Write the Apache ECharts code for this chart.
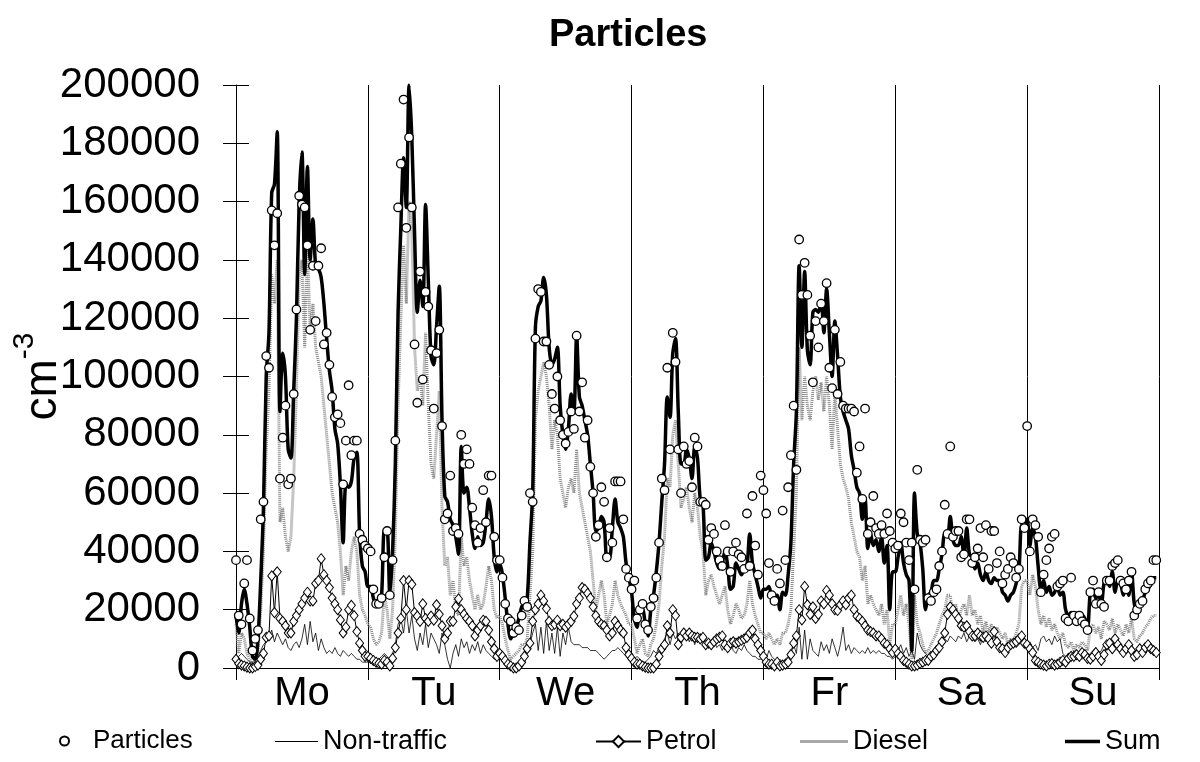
<!DOCTYPE html>
<html>
<head>
<meta charset="utf-8">
<script src="https://cdn.jsdelivr.net/npm/echarts@6/dist/echarts.min.js"></script>
<style>
html,body{margin:0;padding:0;background:#fff;}
#chart{width:1200px;height:762px;}
</style>
</head>
<body>
<div id="chart"></div>
<script>
// Weekday labels (one per day, 48 half-hour values per day)
const days = ['Mo', 'Tu', 'We', 'Th', 'Fr', 'Sa', 'Su'];
const seriesNames = ['Particles', 'Non-traffic', 'Petrol', 'Diesel', 'Sum'];
const UNIT = 1000; // values below are in thousands of cm^-3
const STEPS_PER_DAY = 48;

// Particles (measured), half-hourly
const particles = [
  37,18,15,29,37,17,6,10,13,51, 57,107,103,157,145,156,65,79,90,63, 65,94,123,162,159,158,145,116,138,119, 138,144,111,115,104,93,86,87,84,63, 78,97,73,78,78,46,44,42,
  41,40,27,22,22,24,38,47,25,37, 78,158,173,195,151,182,158,111,91,136, 99,129,124,109,89,108,116,83,51,53, 66,47,48,46,80,70,75,70,55,49, 43,48,61,50,66,66,45,37,
  37,31,22,17,16,12,14,13,18,23, 21,60,57,113,130,129,112,112,104,94, 89,100,85,80,77,81,88,82,114,88, 98,79,85,69,60,45,49,62,57,38, 48,43,64,64,64,51,34,31,
  27,30,17,20,22,15,13,21,24,31, 43,65,61,103,75,115,105,75,60,76, 70,71,62,79,76,57,57,56,44,48, 46,40,37,35,49,40,33,40,43,39, 38,34,53,35,59,42,32,66,
  61,53,36,25,23,34,29,54,37,62, 73,90,68,147,128,139,128,114,98,119, 110,125,119,132,103,96,116,94,105,90, 89,89,89,88,67,76,58,89,46,50, 59,48,46,49,46,53,47,43,
  41,42,53,50,43,37,43,27,68,44, 43,44,24,23,26,27,35,40,56,46, 76,45,47,47,38,39,51,51,36,38, 41,48,38,49,34,47,47,36,40,29, 32,34,38,36,31,34,51,48,
  83,40,51,49,45,26,32,37,41,45, 46,28,29,30,17,16,31,18,16,18, 16,15,13,26,30,22,26,22,21,30, 30,35,36,37,30,29,27,30,33,18, 20,22,23,27,29,30,37,37
];

// Non-traffic contribution
const nonTraffic = [
  3,4,5,4,3,2,2,3,4,6, 8,9,10,13,9,12,10,8,10,7, 6,8,9,7,10,15,8,16,9,12, 6,10,7,5,6,5,7,5,4,6, 5,4,5,4,3,3,2,2,
  2,3,2,2,3,4,5,4,3,5, 8,15,17,12,20,12,18,10,6,12, 8,15,7,12,10,8,5,12,8,3, 0,5,8,4,10,7,9,5,8,6, 9,5,8,6,5,4,3,3,
  3,3,2,2,1,1,1,2,3,4, 5,8,12,15,6,14,5,16,6,12, 5,14,4,12,8,14,9,8,8,8, 7,7,7,6,6,6,5,4,3,4, 5,6,6,7,6,5,4,3,
  2,3,4,3,2,2,3,4,6,5, 7,8,10,12,8,12,10,12,8,11, 12,9,11,8,12,9,10,7,9,8, 10,7,8,6,8,7,9,6,5,7, 6,8,6,5,4,4,3,3,
  3,3,6,4,3,2,3,2,3,4, 6,8,5,14,3,13,3,10,6,5, 4,9,6,8,5,10,7,4,8,14, 6,8,5,7,6,5,6,5,7,5, 6,5,6,5,5,4,4,3,
  4,6,8,5,7,4,6,3,12,8, 6,5,4,5,6,5,7,8,10,9, 11,10,9,11,10,12,9,11,10,9, 10,8,11,9,10,8,9,10,8,7, 8,9,7,8,7,8,10,9,
  8,9,7,8,6,10,11,9,10,8, 11,9,10,5,4,4,5,4,3,4, 3,4,3,5,6,7,5,6,8,6, 7,5,8,6,7,5,6,7,5,6, 4,5,6,5,6,5,6,5
];

// Petrol contribution
const petrol = [
  3,1.5,1,0.7,0.3,0,0,0.5,1,3, 5,10.5,11,31.6,19,33,17,16,14.5,12, 12,16,18,20,22,24,26,23,23,29, 30,37.5,32,30,27.6,24,22,20,16.5,12, 14,20,21.5,18,12.5,8.5,6,4,
  4,3.3,2.6,2,1.6,1.3,2.6,2,0.7,3.3, 7,12,17,30,20,30,28.7,19,17.8,16, 22,17,16,17.8,16.4,21.7,18.4,14.5,10,12, 16,16,21,23.7,20,18.4,17,16,14.5,11, 13,14.5,16.4,16,13,9,6.6,4,
  5,4,2.6,1.3,0.7,0,0,0.7,2,4, 6.6,8.5,16,20,22,25,23,20.4,16,14.5, 15,16.4,14.5,15,14,15,16,17.8,22,24, 27.6,27,25.6,24,21,18,16,15,14.5,13, 11,12,16,14.5,13,12,7,4.6,
  3.3,2,1.3,1.3,0.7,0.3,0,0,0,1.3, 4,6.6,8,14.5,12,20,18,8,10.5,12, 11,12,11,10.5,10.5,10,10.5,8,8.5,8, 9,10,10.5,11,8,7,8.5,9,8.5,9, 9.5,10,10.5,12,13,10,8,6,
  4,2,1.3,1.3,0.7,2,0.7,1,1.3,2, 4.6,8.5,11,20,16.5,28,21.7,18.4,21,17, 18.4,23,22,26.6,25,22,20,19.7,21.7,23, 21.7,24,25,20,17.8,17,16,14.5,13,12.5, 12,11,11,10,8.5,8,6.6,5.3,
  6.5,5,4,2.6,2,1.3,0.7,0.7,1,1.6, 2,2.6,2.6,4,4.6,6,7,9,12,18.4, 21,20,18.4,17,14.5,14,14.5,12.5,11,11, 12,11,10.5,11,10,8.5,12.5,9,7,6.6, 5.3,7,8,8.5,9,10,11,8.5,
  8,6.6,5.3,2.6,2,1.3,1,0.7,1.3,1.5, 1,1.3,2,2.6,2,3.3,4,4,4.6,4, 5.3,4.6,3.3,3,4,5.3,4,2.6,4.6,8, 8.5,6.6,10,8,6.6,5.3,6.6,8,6,4, 4.6,6.6,5.3,7,8,6.6,6,5.3
];

// Diesel contribution
const diesel = [
  15,5,12,10,5,3,1,2,5,20, 40,75,95,135,125,140,50,55,45,40, 45,65,95,135,140,110,145,115,125,110, 105,100,90,80,70,60,55,50,40,25, 35,30,40,45,40,25,20,18,
  15,14,10,8,9,12,25,20,10,20, 45,90,120,145,125,160,150,110,95,100, 90,115,90,70,65,80,95,55,35,38, 25,30,20,18,45,35,38,30,25,20, 25,20,22,28,35,30,20,17,
  18,15,10,6,3,4,5,6,8,8, 10,25,40,85,95,100,105,100,90,75, 85,80,65,60,55,62,65,60,75,60, 55,50,45,40,30,20,25,30,25,15, 18,22,30,25,22,20,18,15,
  15,10,5,8,10,5,4,8,10,15, 22,35,45,65,62,80,85,70,55,58, 62,55,50,60,55,45,40,25,30,32, 28,25,22,25,28,20,15,18,22,20, 17,18,22,30,22,18,15,12,
  12,10,12,10,8,10,8,12,12,15, 20,40,60,110,85,100,90,85,95,100, 92,98,88,100,90,75,95,82,70,65, 62,58,50,45,40,38,30,35,22,25, 22,20,18,22,15,20,8,15,
  15,20,25,18,22,15,3,25,15,12, 8,5,6,8,10,12,15,18,20,25, 25,18,22,16,20,22,18,25,18,20, 15,18,12,16,12,15,10,14,12,10, 12,8,10,9,12,15,28,30,
  30,25,32,28,20,15,18,14,17,13, 15,12,10,12,8,7,9,6,8,7, 9,8,6,14,15,12,14,10,16,15, 13,17,12,15,13,11,15,12,17,10, 9,11,12,14,15,17,18,18
];

// Modelled sum
const sum = [
  18,12,22,27,22,14,4,3,10,30, 55,100,115,163,166,184,88,108,100,75, 72,95,120,160,177,135,172,140,154,138, 137,134,125,113,102,95,82,77,63,43, 63,62,64,72,74,46,35,33,
  28,28,24,22,22,25,47,47,25,40, 70,122,151,175,158,200,182,149,122,133, 124,159,133,107,104,117,131,85,59,57, 51,49,45,39,76,60,62,55,46,41, 45,42,43,50,58,52,38,33,
  36,32,24,15,10,12,14,17,21,22, 24,43,60,117,124,126,134,128,110,104, 106,110,90,80,75,82,94,88,114,93, 90,85,80,70,60,47,48,52,50,38, 38,48,58,50,48,45,36,31,
  26,17,14,20,20,15,11,20,25,33, 43,57,70,93,86,108,113,88,70,70, 75,72,65,76,72,58,56,37,38,43, 40,36,34,36,40,35,27,28,36,34, 32,34,35,46,36,32,28,24,
  27,27,28,24,22,25,20,26,25,32, 43,70,88,138,110,136,109,104,122,123, 122,126,115,130,115,100,119,107,93,88, 85,82,73,68,62,60,51,58,41,46, 42,44,40,45,36,42,20,33,
  33,38,43,36,32,30,6,60,46,43, 34,20,25,26,30,30,34,39,46,45, 52,44,42,42,45,38,48,39,38,34, 36,32,30,33,30,29,31,30,30,26, 25,23,25,26,29,33,49,48,
  51,42,48,45,35,27,30,26,28,25, 26,28,25,26,20,18,19,17,17,17, 18,17,14,26,27,24,25,22,29,30, 28,33,26,30,29,25,30,25,33,22, 20,22,23,26,27,29,31,31
];

const toXY = arr => arr.map((v, i) => [i, v * UNIT]);
const FONT = '"Liberation Sans", Arial, Helvetica, sans-serif';
const totalSteps = days.length * STEPS_PER_DAY;

const chart = echarts.init(document.getElementById('chart'), null, { renderer: 'canvas' });

function legendAt(item, left, width, extra) {
  return Object.assign({
    data: [item], left: left, top: 728, orient: 'horizontal', padding: 0,
    itemWidth: width, itemHeight: 14,
    textStyle: { fontFamily: FONT, fontSize: 27, color: '#000' }
  }, extra || {});
}

const option = {
  animation: false,
  backgroundColor: '#fff',
  title: {
    text: 'Particles', left: 544, top: 12,
    textStyle: { fontFamily: FONT, fontSize: 38, fontWeight: 'bold', color: '#000' }
  },
  legend: [
    legendAt({ name: seriesNames[0], icon: 'circle' }, 59, 9, { itemHeight: 9, textStyle: { fontFamily: FONT, fontSize: 26, color: '#000', padding: [0, 0, 0, 19] } }),
    legendAt({ name: seriesNames[1], icon: 'rect' }, 275, 43, { itemHeight: 1 }),
    legendAt({ name: seriesNames[2] }, 595, 45),
    legendAt({ name: seriesNames[3], icon: 'rect', itemStyle: { color: '#a8a8a8' } }, 800, 48, { itemHeight: 3 }),
    legendAt({ name: seriesNames[4], icon: 'rect' }, 1065, 35, { itemHeight: 3.5 })
  ],
  grid: { left: 236, right: 41, top: 85, bottom: 94, containLabel: false, outerBoundsMode: 'none' },
  xAxis: [
    {
      type: 'value', min: 0, max: totalSteps, interval: STEPS_PER_DAY,
      axisLine: { show: true, lineStyle: { color: '#000', width: 1 } },
      axisTick: { show: true, length: 12, lineStyle: { color: '#000', width: 1 } },
      axisLabel: { show: false },
      splitLine: { show: true, lineStyle: { color: '#000', width: 1 } }
    },
    {
      type: 'category', data: days, boundaryGap: true, position: 'bottom',
      axisLine: { show: false }, axisTick: { show: false }, splitLine: { show: false },
      axisLabel: { show: true, margin: 6, fontFamily: FONT, fontSize: 40, color: '#000' }
    }
  ],
  yAxis: [
    {
      type: 'value', min: 0, max: 200000, interval: 20000, position: 'left',
      name: '{a|cm}{b|-3}', nameLocation: 'middle', nameGap: 170, nameRotate: 90, nameMoveOverlap: false,
      nameTextStyle: {
        color: '#000',
        rich: {
          a: { fontFamily: FONT, fontSize: 46, color: '#000', lineHeight: 56, verticalAlign: 'bottom' },
          b: { fontFamily: FONT, fontSize: 30, color: '#000', lineHeight: 56, verticalAlign: 'top' }
        }
      },
      axisLine: { show: true, lineStyle: { color: '#000', width: 1 } },
      axisTick: { show: true, length: 13, lineStyle: { color: '#000', width: 1 } },
      axisLabel: { show: true, margin: 36, fontFamily: FONT, fontSize: 42, color: '#000', formatter: v => String(v) },
      splitLine: { show: false }
    },
    {
      type: 'value', min: 0, max: 200000, interval: 20000, position: 'left',
      axisLine: { show: false },
      axisTick: { show: true, inside: true, length: 13, lineStyle: { color: '#000', width: 1 } },
      axisLabel: { show: false },
      splitLine: { show: false }
    }
  ],
  series: [
    {
      name: seriesNames[3], type: 'line', z: 1, data: toXY(diesel),
      showSymbol: false, symbol: 'none',
      lineStyle: { color: '#8c8c8c', width: 3, type: [1, 1] },
      itemStyle: { color: '#8c8c8c' }
    },
    {
      name: seriesNames[1], type: 'line', z: 2, data: toXY(nonTraffic),
      showSymbol: false, symbol: 'none',
      lineStyle: { color: '#000', width: 0.8 },
      itemStyle: { color: '#000' }
    },
    {
      name: seriesNames[4], type: 'line', z: 3, data: toXY(sum),
      showSymbol: false, symbol: 'none', smooth: 0.3,
      lineStyle: { color: '#000', width: 3.5 },
      itemStyle: { color: '#000' }
    },
    {
      name: seriesNames[2], type: 'line', z: 4, data: toXY(petrol),
      symbol: 'diamond', symbolSize: [8, 10], showSymbol: true, showAllSymbol: true,
      lineStyle: { color: '#000', width: 1 },
      itemStyle: { color: '#fff', borderColor: '#000', borderWidth: 1 }
    },
    {
      name: seriesNames[0], type: 'scatter', z: 5, data: toXY(particles),
      symbol: 'circle', symbolSize: 8.5,
      itemStyle: { color: '#fff', borderColor: '#000', borderWidth: 1.3, opacity: 1 }
    }
  ]
};
chart.setOption(option);
</script>
</body>
</html>
